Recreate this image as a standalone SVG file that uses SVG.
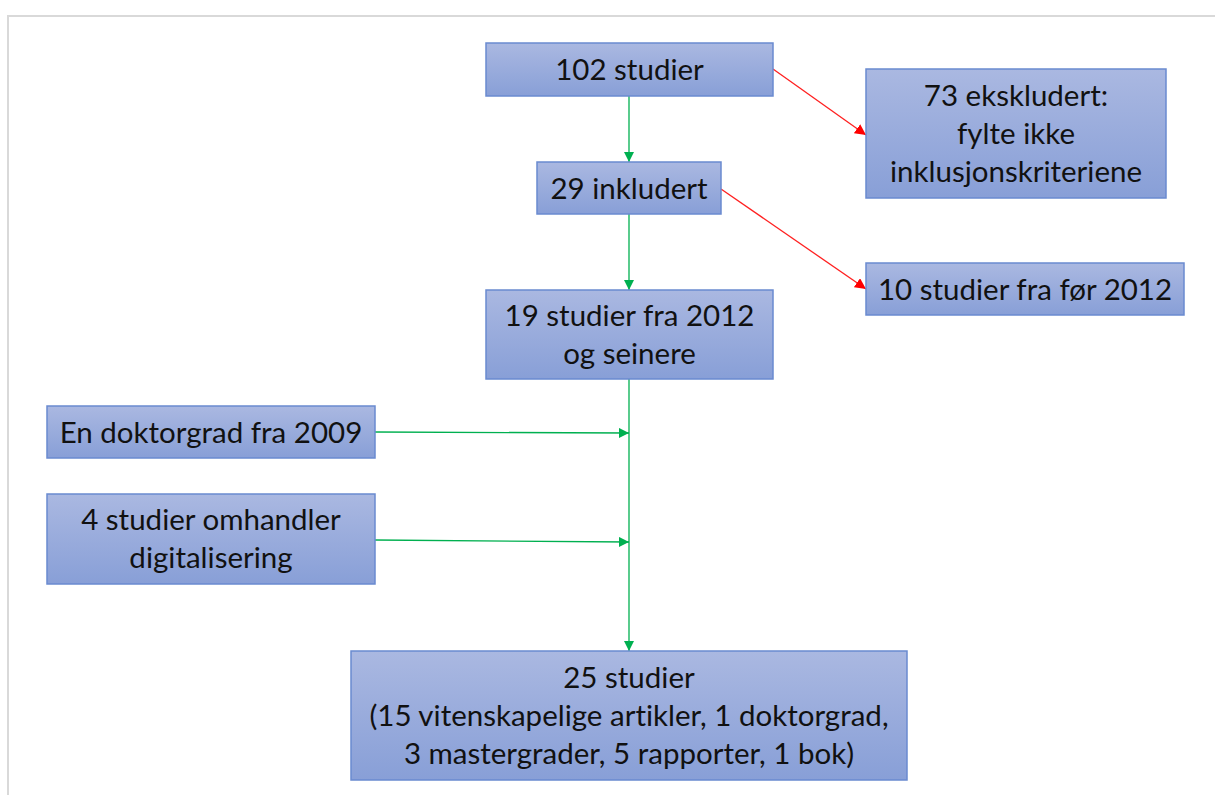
<svg xmlns="http://www.w3.org/2000/svg" width="1215" height="795" viewBox="0 0 1215 795">
<defs>
<linearGradient id="g" x1="0" y1="0" x2="0" y2="1">
<stop offset="0" stop-color="#aab8e1"/>
<stop offset="1" stop-color="#889fd7"/>
</linearGradient>
<marker id="ag" viewBox="0 0 10 10" refX="10" refY="5" markerWidth="10" markerHeight="10" markerUnits="userSpaceOnUse" orient="auto">
<path d="M0,0 L10,5 L0,10 z" fill="#00b050"/>
</marker>
<marker id="ar" viewBox="0 0 10 10" refX="10" refY="5" markerWidth="11" markerHeight="11" markerUnits="userSpaceOnUse" orient="auto">
<path d="M0,0 L10,5 L0,10 z" fill="#ff0000"/>
</marker>
</defs>
<style>
.box{fill:url(#g);stroke:#6a8ad0;stroke-width:1.5}
.t{font-family:Lato,"Open Sans",sans-serif;font-size:29.5px;fill:#111;text-anchor:middle;font-variant-ligatures:none}
.gl{stroke:#00b050;stroke-width:1.3;fill:none;marker-end:url(#ag)}
.rl{stroke:#ff2020;stroke-width:1.3;fill:none;marker-end:url(#ar)}
</style>
<rect x="0" y="0" width="1215" height="795" fill="#fff"/>
<path d="M8,795 V16 H1215" fill="none" stroke="#d9d9d9" stroke-width="2"/>
<g id="connectors">
<line class="gl" x1="629" y1="96" x2="629" y2="162"/>
<line class="gl" x1="629" y1="214" x2="629" y2="290"/>
<line class="gl" x1="629" y1="379" x2="629" y2="651"/>
<line class="gl" x1="375" y1="432" x2="629" y2="433"/>
<line class="gl" x1="375" y1="540" x2="629" y2="542"/>
<line class="rl" x1="773" y1="69" x2="866" y2="135"/>
<line class="rl" x1="721" y1="189" x2="866" y2="289"/>
</g>
<g id="n102">
<rect class="box" x="486" y="43" width="287" height="53"/>
<text class="t" x="629.5" y="80">102 studier</text>
</g>
<g id="n29">
<rect class="box" x="537" y="162" width="184" height="52"/>
<text class="t" x="629" y="199">29 inkludert</text>
</g>
<g id="n73">
<rect class="box" x="866" y="69" width="300" height="129"/>
<text class="t" x="1016" y="106">73 ekskludert:</text>
<text class="t" x="1016" y="144">fylte ikke</text>
<text class="t" x="1016" y="182">inklusjonskriteriene</text>
</g>
<g id="n10">
<rect class="box" x="866" y="263" width="318" height="52"/>
<text class="t" x="1025" y="300">10 studier fra før 2012</text>
</g>
<g id="n19">
<rect class="box" x="486" y="290" width="287" height="89"/>
<text class="t" x="629.5" y="326">19 studier fra 2012</text>
<text class="t" x="629.5" y="364">og seinere</text>
</g>
<g id="nDok">
<rect class="box" x="47" y="406" width="328" height="52"/>
<text class="t" x="211" y="443">En doktorgrad fra 2009</text>
</g>
<g id="n4">
<rect class="box" x="47" y="494" width="328" height="90"/>
<text class="t" x="211" y="530">4 studier omhandler</text>
<text class="t" x="211" y="568">digitalisering</text>
</g>
<g id="n25">
<rect class="box" x="351" y="651" width="556" height="129"/>
<text class="t" x="629" y="688">25 studier</text>
<text class="t" x="629" y="726">(15 vitenskapelige artikler, 1 doktorgrad,</text>
<text class="t" x="629" y="764">3 mastergrader, 5 rapporter, 1 bok)</text>
</g>
</svg>
